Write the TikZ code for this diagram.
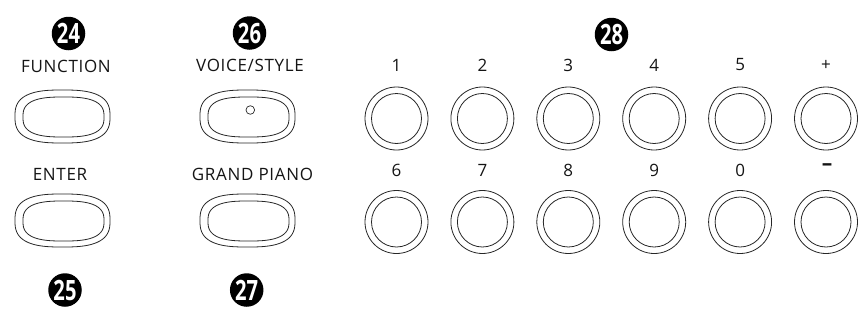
\documentclass[tikz,border=0pt]{standalone}
\usepackage{fontspec}
\setmainfont{Open Sans}
\newfontfamily\lblfont[LetterSpace=4]{Open Sans}
\begin{document}
\begin{tikzpicture}[x=1pt,y=-1pt,
  lbl/.style={font=\lblfont\fontsize{17}{19}\selectfont, text=black!92, inner sep=0pt, anchor=center},
  badge/.style={circle, fill=black, minimum size=33.5pt, inner sep=0pt, text=white,
     font=\fontsize{28}{30}\bfseries\selectfont},
  ring/.style={draw=black!85, line width=0.8pt},
  roundbtn/.style={circle, draw=black!85, line width=0.8pt, minimum size=63pt, inner sep=0pt},
  innerbtn/.style={circle, draw=black!85, line width=0.8pt, minimum size=50pt, inner sep=0pt}
]
\useasboundingbox (0,0) rectangle (864,324);
% superellipse oval: #1,#2 centre, #3 half width, #4 half height
\newcommand{\myoval}[4]{%
  \draw[ring] plot[domain=1.25:358.75, samples=144]
   ({#1+#3*(cos(\x)/abs(cos(\x)))*abs(cos(\x))^0.72},
    {#2+#4*(sin(\x)/abs(sin(\x)))*abs(sin(\x))^0.72}) -- cycle;}
\newcommand{\bnum}[1]{\scalebox{0.72}[1]{#1}}

% badges
\node[badge] (b24) at (68.5,33.5) {\bnum{24}};
\node[badge] (b26) at (249.5,33) {\bnum{26}};
\node[badge] (b28) at (611.5,34.5) {\bnum{28}};
\node[badge] (b25) at (65,290) {\bnum{25}};
\node[badge] (b27) at (246.7,290) {\bnum{27}};

% labels
\node[lbl] (lfun) at (66,66) {FUNCTION};
\node[lbl] (lvoi) at (250,65.5) {VOICE/STYLE};
\node[lbl] (lent) at (60,174) {ENTER};
\node[lbl] (lgra) at (252.5,174) {GRAND PIANO};

% oval buttons
\myoval{62.5}{116.5}{47.5}{26.5}
\myoval{63.5}{117}{40.5}{20}
\myoval{247.5}{116.5}{47.5}{26.5}
\myoval{248.5}{117}{40.5}{20}
\node[circle, draw=black!85, line width=0.7pt, minimum size=8.6pt, inner sep=0pt] (vdot) at (250.3,110) {};
\myoval{62.5}{220.5}{47.5}{26.5}
\myoval{63.5}{221}{40.5}{20}
\myoval{247.5}{220.5}{47.5}{26.5}
\myoval{248.5}{221}{40.5}{20}

% round buttons
\foreach \i/\t in {0/1,1/2,2/3,3/4,4/5,5/+} {
  \pgfmathsetmacro\cx{396.5+85.9*\i}
  \node[roundbtn] (r1\i) at (\cx,118.5) {};
  \node[innerbtn] at (r1\i) {};
  \node[lbl] (t1\i) at (\cx,65) {\t};
}
\foreach \i/\t in {0/6,1/7,2/8,3/9,4/0} {
  \pgfmathsetmacro\cx{396.5+85.9*\i}
  \node[roundbtn] (r2\i) at (\cx,222) {};
  \node[innerbtn] at (r2\i) {};
  \node[lbl] (t2\i) at (\cx,170) {\t};
}
\node[roundbtn] (r25) at (826,222) {};
\node[innerbtn] at (r25) {};
\node[lbl, font=\fontsize{21}{22}\bfseries\selectfont] (t25) at (827,167) {–};
\end{tikzpicture}
\end{document}
